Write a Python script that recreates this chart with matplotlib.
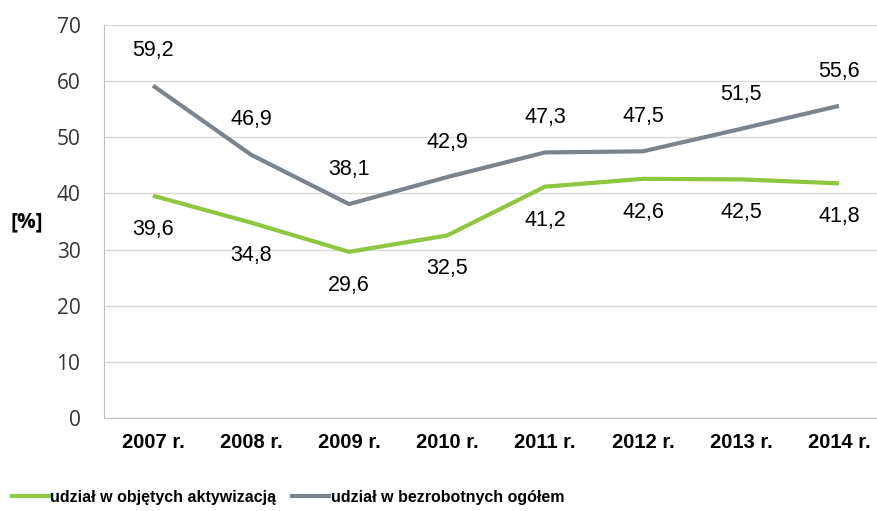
import matplotlib
matplotlib.use("Agg")
import matplotlib.pyplot as plt
from matplotlib.lines import Line2D

years = ["2007 r.", "2008 r.", "2009 r.", "2010 r.", "2011 r.", "2012 r.", "2013 r.", "2014 r."]
aktywizacja = [39.6, 34.8, 29.6, 32.5, 41.2, 42.6, 42.5, 41.8]
ogolem = [59.2, 46.9, 38.1, 42.9, 47.3, 47.5, 51.5, 55.6]
labels_akt = ["39,6", "34,8", "29,6", "32,5", "41,2", "42,6", "42,5", "41,8"]
labels_og = ["59,2", "46,9", "38,1", "42,9", "47,3", "47,5", "51,5", "55,6"]

green = "#8DC63F"
gray = "#7B838C"

plt.rcParams['font.family'] = ['Liberation Sans', 'DejaVu Sans']

fig = plt.figure(figsize=(8.77, 5.11), dpi=100)
ax = fig.add_axes([104 / 877, 1 - 418 / 511, 1 - 104 / 877, (418 - 25) / 511])

x = list(range(len(years)))
ax.plot(x, aktywizacja, color=green, lw=3, solid_capstyle='butt')
ax.plot(x, ogolem, color=gray, lw=3, solid_capstyle='butt')

for i in x:
    ax.annotate(labels_og[i], (i, ogolem[i]), xytext=(0, 25), textcoords='offset points',
                ha='center', va='center', fontsize=15.5)
    ax.annotate(labels_akt[i], (i, aktywizacja[i]), xytext=(0, -24), textcoords='offset points',
                ha='center', va='center', fontsize=15.5)

ax.set_xlim(-0.5, -0.5 + 773 / 98)
ax.set_ylim(0, 70)
ax.set_yticks(range(0, 71, 10))
ax.yaxis.grid(True, color='#D9D9D9', lw=1)
ax.set_axisbelow(True)
ax.set_xticks(x)
ax.set_xticklabels(years, fontsize=14.5, fontweight='bold')
ax.tick_params(axis='y', labelsize=15, length=0, pad=17, labelcolor='#333333')
ax.tick_params(axis='x', length=0, pad=11)
for lbl in ax.get_yticklabels():
    lbl.set_family(['Open Sans', 'DejaVu Sans'])

for s in ['top', 'right']:
    ax.spines[s].set_visible(False)
ax.spines['left'].set_color('#BFBFBF')
ax.spines['bottom'].set_color('#BFBFBF')

fig.text(27 / 877, 1 - 222 / 511, "[%]", fontsize=15, fontweight='bold',
         va='center', ha='center', family=['Open Sans', 'DejaVu Sans'])

handles = [Line2D([0], [0], color=green, lw=3), Line2D([0], [0], color=gray, lw=3)]
fig.legend(handles, ["udział w objętych aktywizacją", "udział w bezrobotnych ogółem"],
           loc='center left', bbox_to_anchor=(12 / 877, 1 - 497 / 511), ncol=2, frameon=False,
           handlelength=2.3, handletextpad=0.1, columnspacing=1.0,
           borderaxespad=0, borderpad=0,
           prop={'weight': 'bold', 'size': 11.5})

fig.savefig("out.png", dpi=100)
